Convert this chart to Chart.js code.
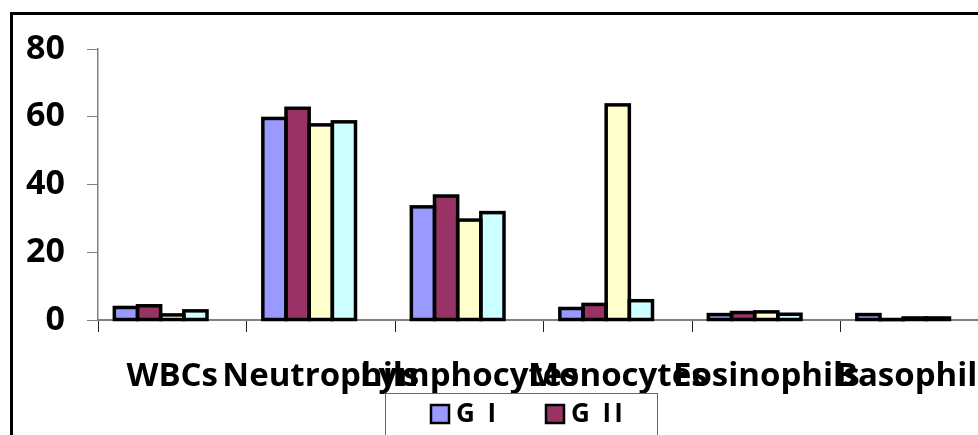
<!DOCTYPE html>
<html>
<head>
<meta charset="utf-8">
<script src="https://cdn.jsdelivr.net/npm/chart.js@4.4.1/dist/chart.umd.min.js"></script>
<style>
  html, body { margin: 0; padding: 0; background: #fff; overflow: hidden; }
  #wrap { width: 1040px; height: 470px; }
</style>
</head>
<body>
<div id="wrap"><canvas id="cellChart" width="1040" height="470"></canvas></div>
<script>
const categories = ['WBCs', 'Neutrophils', 'Lymphocytes', 'Monocytes', 'Eosinophils', 'Basophils'];
const groupNames = ['G I', 'G II', 'G III', 'G IV'];
const g1 = [3.7, 59.5, 33.4, 3.4, 1.6, 1.6];
const g2 = [4.2, 62.5, 36.6, 4.6, 2.2, 0.1];
const g3 = [1.5, 57.6, 29.5, 63.5, 2.4, 0.6];
const g4 = [2.7, 58.5, 31.7, 5.7, 1.7, 0.6];
const yTicks = [0, 20, 40, 60, 80];

const colors = ['#9999FF', '#993366', '#FFFFCC', '#CCFFFF'];
const font = 'Open Sans';

// outer frame of the old excel chart, runs off the page on the right / bottom
const framePlugin = {
    id: 'frame',
    afterDraw(chart) {
        const ctx = chart.ctx;
        ctx.save();
        ctx.strokeStyle = '#000';
        ctx.lineWidth = 3;
        ctx.strokeRect(11.5, 13.5, 3000, 3000);
        ctx.restore();
    }
};

// excel style outline: stroke centred on the bar edge, so tiny bars still show
const outlinePlugin = {
    id: 'outline',
    afterDatasetsDraw(chart) {
        const ctx = chart.ctx;
        ctx.save();
        ctx.strokeStyle = '#000';
        ctx.lineWidth = 3.5;
        ctx.lineJoin = 'miter';
        chart.data.datasets.forEach((ds, i) => {
            if (!ds.label) return;
            chart.getDatasetMeta(i).data.forEach(bar => {
                const { x, y, base, width } = bar.getProps(['x', 'y', 'base', 'width'], true);
                if (!isFinite(y)) return;
                ctx.strokeRect(x - width / 2, y, width, base - y);
            });
        });
        ctx.restore();
    }
};

// legend in a box, two per row (second row falls below the picture)
const legendBoxPlugin = {
    id: 'legendBox',
    afterDraw(chart) {
        const ctx = chart.ctx;
        ctx.save();
        ctx.fillStyle = '#fff';
        ctx.fillRect(386, 394, 271, 80);
        ctx.strokeStyle = '#666';
        ctx.lineWidth = 1;
        ctx.strokeRect(385.5, 393.5, 272, 80);
        ctx.font = `bold 26px "${font}"`;
        ctx.letterSpacing = '3px';
        ctx.textBaseline = 'middle';
        chart.data.datasets.filter(ds => ds.label).forEach((ds, i) => {
            const x = 431 + (i % 2) * 115;
            const y = 405 + Math.floor(i / 2) * 34;
            ctx.fillStyle = ds.backgroundColor;
            ctx.fillRect(x, y, 18, 18);
            ctx.lineWidth = 2.5;
            ctx.strokeStyle = '#000';
            ctx.strokeRect(x, y, 18, 18);
            ctx.fillStyle = '#000';
            ctx.fillText(ds.label, x + 25, y + 10);
        });
        ctx.restore();
    }
};

const series = [g1, g2, g3, g4];
const datasets = series.map((vals, i) => ({
    label: groupNames[i],
    data: vals,
    backgroundColor: colors[i],
    borderWidth: 0
}));
// empty slot: excel leaves room for one more bar on the right of each group
datasets.push({ label: '', data: categories.map(() => null) });

new Chart(document.getElementById('cellChart'), {
    type: 'bar',
    data: { labels: categories, datasets: datasets },
    plugins: [outlinePlugin, framePlugin, legendBoxPlugin],
    options: {
        responsive: false,
        animation: false,
        categoryPercentage: 0.78,
        barPercentage: 1,
        layout: { padding: { left: 0, top: 49, right: 51, bottom: 0 } },
        plugins: {
            legend: { display: false },
            tooltip: { enabled: false }
        },
        scales: {
            x: {
                offset: true,
                grid: { offset: true, drawOnChartArea: false, tickLength: 12, color: '#222', tickWidth: 1 },
                border: { color: '#808080', width: 2 },
                ticks: {
                    autoSkip: false, maxRotation: 0, minRotation: 0, padding: 25,
                    color: '#000', font: { family: font, weight: 'bold', size: 33 }
                },
                afterFit(scale) { scale.height = 150; }
            },
            y: {
                min: 0, max: 80,
                afterBuildTicks(scale) { scale.ticks = yTicks.map(v => ({ value: v })); },
                grid: { drawOnChartArea: false, tickLength: 11, color: '#808080' },
                border: { color: '#808080', width: 1.5 },
                ticks: { padding: 22, color: '#000', font: { family: font, weight: 'bold', size: 34 } },
                afterFit(scale) { scale.width = 98; }
            }
        }
    }
});
</script>
</body>
</html>
